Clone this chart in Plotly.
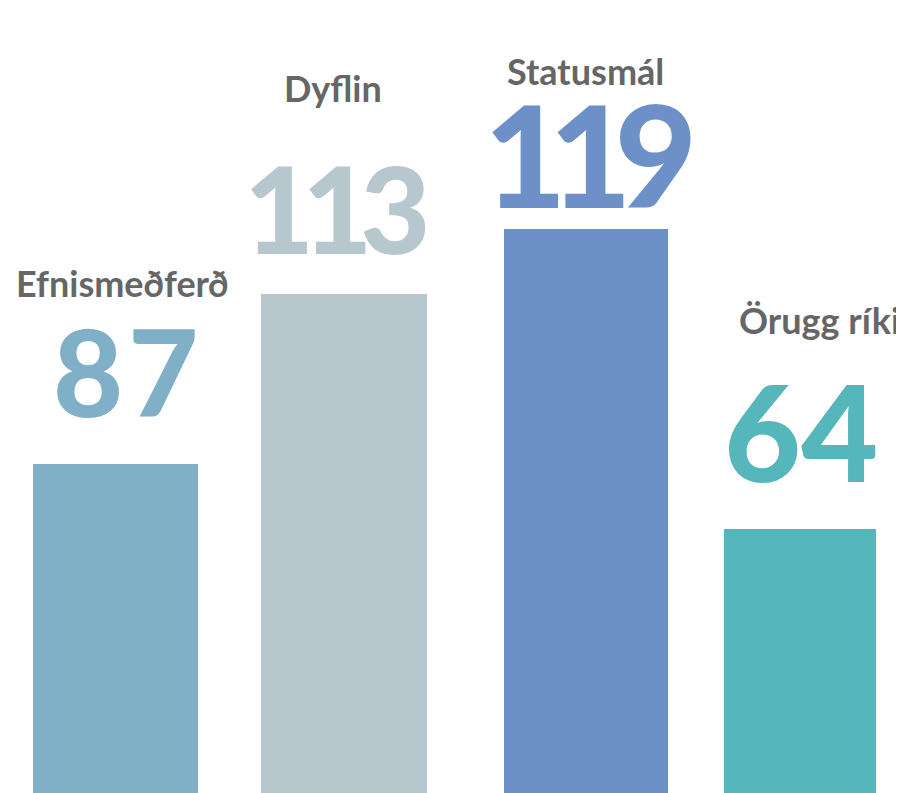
import plotly.graph_objects as go

# ---- data ----
categories = ["Efnismeðferð", "Dyflin", "Statusmál", "Örugg ríki"]
values = [87, 113, 119, 64]
# visual bar lengths as drawn in the infographic (not proportional to values)
bar_lengths = [329.5, 499.3, 564, 264]
colors = ["#7fb0c7", "#b6c7ce", "#6d90c8", "#55b6bc"]

# ---- layout constants (page body has an 8px margin) ----
PAGE_OFF = 8
W, H = 904 - PAGE_OFF, 793 - PAGE_OFF
step = 228.0
first_center = 115.5 - PAGE_OFF
bar_px_width = [165.5, 166, 164, 152]
bar_px_center = [115.25, 344, 586, 800]

widths = [w / step for w in bar_px_width]
offsets = [((c - PAGE_OFF - first_center) / step - i) - w / 2
           for i, (c, w) in enumerate(zip(bar_px_center, widths))]

fig = go.Figure()
fig.add_trace(go.Bar(
    x=list(range(len(categories))),
    y=bar_lengths,
    width=widths,
    offset=offsets,
    marker=dict(color=colors, line=dict(width=0)),
    hoverinfo="skip",
))

num_sizes = [121, 121, 142, 133]
num_spacing = [5, -12, -17, 0]
num_xshift = [12, -9.5, 16, 1]
num_yshift = [18.7, 11.9, -11.2, 16.7]
lab_size = 36
lab_xshift = [7, -10.5, 13.5, 20]
lab_yshift = [156.8, 182, 134.3, 185.3]

annotations = []
for i, (cat, val) in enumerate(zip(categories, values)):
    annotations.append(dict(
        x=i, y=bar_lengths[i], xref="x", yref="y",
        text=f'<span style="letter-spacing:{num_spacing[i]}px">{val}</span>',
        showarrow=False, xanchor="center", yanchor="bottom",
        xshift=num_xshift[i], yshift=num_yshift[i],
        font=dict(family="Lato", size=num_sizes[i], color=colors[i], weight=900),
    ))
    annotations.append(dict(
        x=i, y=bar_lengths[i], xref="x", yref="y",
        text=cat, showarrow=False, xanchor="center", yanchor="bottom",
        xshift=lab_xshift[i], yshift=lab_yshift[i],
        font=dict(family="Lato", size=lab_size, color="#666666", weight="bold"),
    ))

fig.update_layout(
    width=W, height=H,
    margin=dict(l=0, r=0, t=0, b=0),
    paper_bgcolor="white", plot_bgcolor="white",
    showlegend=False,
    bargap=0,
    xaxis=dict(range=[-first_center / step, (W - first_center) / step], visible=False, fixedrange=True),
    yaxis=dict(range=[0, H], visible=False, fixedrange=True),
    annotations=annotations,
)

fig.write_html("out.html", config={"displayModeBar": False})
